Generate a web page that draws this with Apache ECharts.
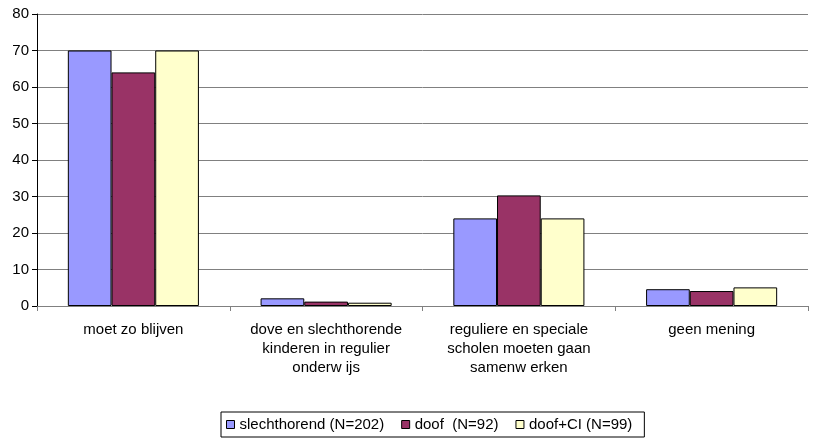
<!DOCTYPE html>
<html>
<head>
<meta charset="utf-8">
<script src="https://cdn.jsdelivr.net/npm/echarts@6/dist/echarts.min.js"></script>
<style>
  html, body { margin: 0; padding: 0; background: #fff; }
  #chart { width: 816px; height: 441px; }
</style>
</head>
<body>
<div id="chart"></div>
<script>
  // data
  var categories = [
    'moet zo blijven',
    'dove en slechthorende\nkinderen in regulier\nonderw ijs',
    'reguliere en speciale\nscholen moeten gaan\nsamenw erken',
    'geen mening'
  ];
  var slechthorend = [70, 2.1, 24, 4.6];
  var doof = [64, 1.2, 30.3, 4.1];
  var doofCI = [70, 0.9, 24, 5.1];
  var seriesNames = ['slechthorend (N=202)', 'doof  (N=92)', 'doof+CI (N=99)'];
  var colors = ['#9999ff', '#993366', '#ffffcc'];

  var font = 'Liberation Sans, Arial, sans-serif';
  var chart = echarts.init(document.getElementById('chart'));

  var seriesData = [slechthorend, doof, doofCI];
  var series = seriesData.map(function (d, i) {
    return {
      name: seriesNames[i],
      type: 'bar',
      data: d,
      barGap: '0%',
      barCategoryGap: '32%',
      itemStyle: { color: colors[i], borderColor: '#000', borderWidth: 1 }
    };
  });

  chart.setOption({
    animation: false,
    color: colors,
    grid: { left: 37, right: 8, top: 14, bottom: 135, containLabel: false },
    legend: {
      bottom: 4,
      left: 221,
      icon: 'rect',
      itemWidth: 8,
      itemHeight: 8,
      itemGap: 17,
      padding: [5, 12, 5, 5],
      borderColor: '#000',
      borderWidth: 1,
      textStyle: { fontFamily: font, fontSize: 15, color: '#000' },
      itemStyle: { borderColor: '#000', borderWidth: 1 },
      data: seriesNames
    },
    xAxis: {
      type: 'category',
      data: categories,
      axisLine: { lineStyle: { color: '#808080', width: 1 } },
      axisTick: { show: true, alignWithLabel: false, length: 5, lineStyle: { color: '#808080' } },
      axisLabel: {
        interval: 0,
        margin: 14,
        lineHeight: 19,
        fontFamily: font,
        fontSize: 15,
        color: '#000'
      }
    },
    yAxis: {
      type: 'value',
      min: 0,
      max: 80,
      interval: 10,
      axisLine: { show: true, lineStyle: { color: '#000', width: 1 } },
      axisTick: { show: true, length: 5, inside: false, lineStyle: { color: '#000' } },
      axisLabel: { margin: 8, fontFamily: font, fontSize: 15, color: '#000' },
      splitLine: { show: true, lineStyle: { color: '#808080', width: 1 } }
    },
    series: series
  });
</script>
</body>
</html>
